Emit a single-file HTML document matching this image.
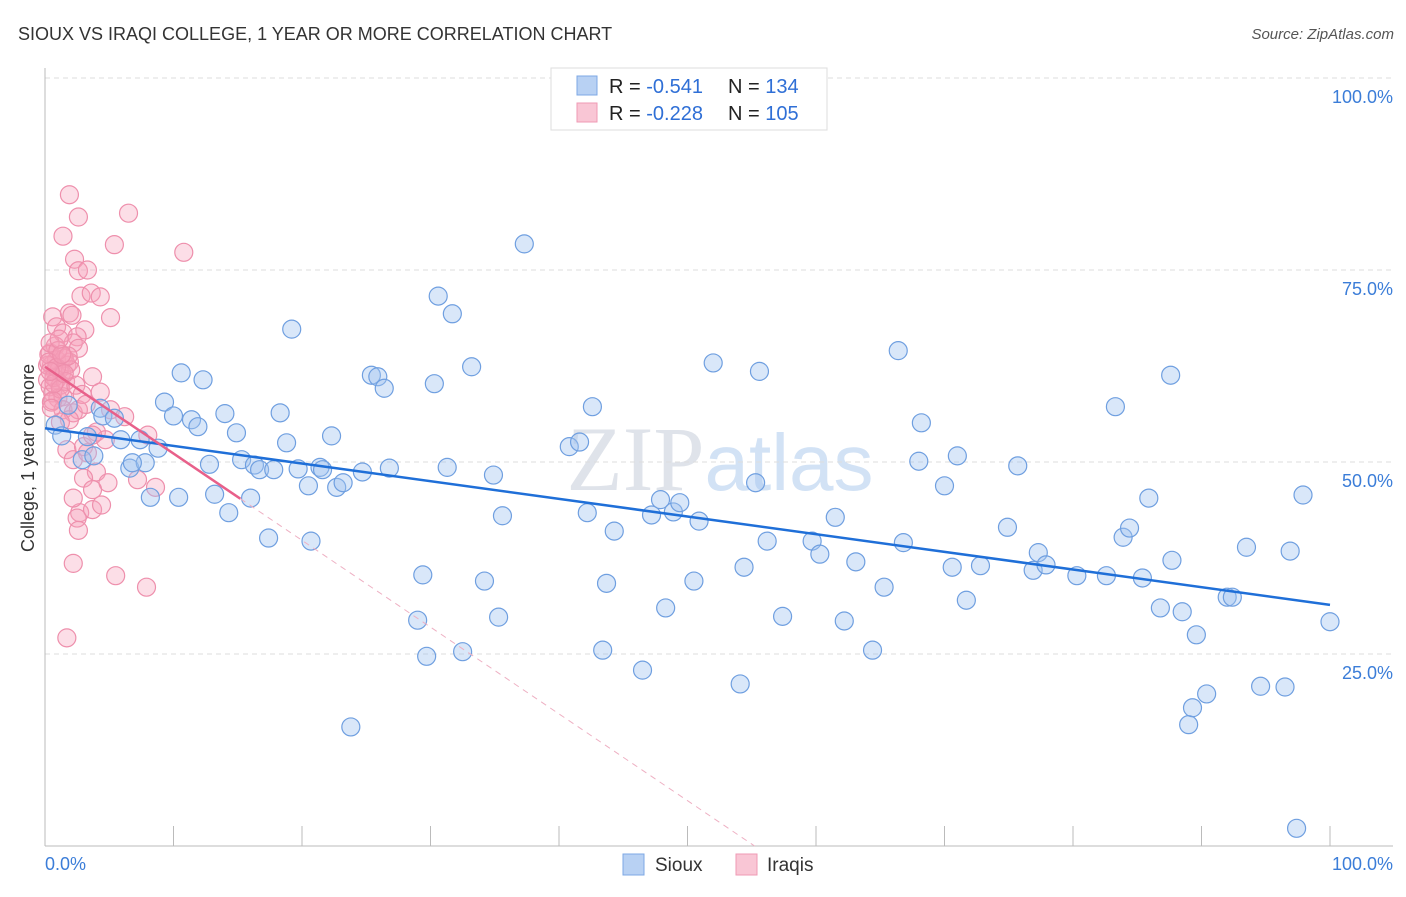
<!DOCTYPE html>
<html><head><meta charset="utf-8"><style>
body{margin:0;background:#fff;font-family:"Liberation Sans",sans-serif}
</style></head><body>
<svg id="chart" width="1406" height="892" xmlns="http://www.w3.org/2000/svg" font-family="Liberation Sans, sans-serif">
<text x="18" y="40" font-size="18" fill="#333">SIOUX VS IRAQI COLLEGE, 1 YEAR OR MORE CORRELATION CHART</text>
<text x="1394" y="39" font-size="15" fill="#555" text-anchor="end" font-style="italic">Source: ZipAtlas.com</text>
<text x="720" y="490" font-size="92" fill="#dfe3ea" text-anchor="middle" font-family="Liberation Serif, serif">ZIP<tspan fill="#d2e2f5" font-family="Liberation Sans, sans-serif" font-size="80">atlas</tspan></text>
<g id="grid"></g><g id="axes"></g><g id="pink"></g><g id="blue"></g><g id="lines"></g>
<text transform="translate(34,458) rotate(-90)" font-size="18" fill="#333" text-anchor="middle">College, 1 year or more</text>
<text x="45" y="870" font-size="18" fill="#3b7dd8">0.0%</text>
<text x="1393" y="870" font-size="18" fill="#3b7dd8" text-anchor="end">100.0%</text>
<g>
<rect x="551" y="68" width="276" height="62" fill="#fff" stroke="#ddd"/>
<rect x="577" y="76" width="20" height="19" fill="#b8d1f3" stroke="#7ea8e4"/>
<rect x="577" y="103" width="20" height="19" fill="#f9c6d5" stroke="#ef9ab4"/>
<text x="609" y="93" font-size="20" fill="#222">R = <tspan fill="#2f6fd6">-0.541</tspan><tspan x="728">N = </tspan><tspan fill="#2f6fd6">134</tspan></text>
<text x="609" y="120" font-size="20" fill="#222">R = <tspan fill="#2f6fd6">-0.228</tspan><tspan x="728">N = </tspan><tspan fill="#2f6fd6">105</tspan></text>
</g>
<g><rect x="623" y="854" width="21" height="21" fill="#b8d1f3" stroke="#7ea8e4"/><text x="655" y="871" font-size="19" fill="#333">Sioux</text></g>
<g><rect x="736" y="854" width="21" height="21" fill="#f9c6d5" stroke="#ef9ab4"/><text x="767" y="871" font-size="19" fill="#333">Iraqis</text></g>
</svg>
<script>
const yTicks=[100,75,50,25];
const yTickLabels=["100.0%","75.0%","50.0%","25.0%"];
const xTicks=[10,20,30,40,50,60,70,80,90,100];
const siouxX=[0.8,1.3,1.8,3.3,4.3,4.5,2.9,3.8,5.4,5.9,6.6,7.4,7.8,6.8,8.2,8.8,9.3,10.0,10.4,10.6,11.4,11.9,12.3,12.8,13.2,14.0,14.3,14.9,15.3,16.0,16.3,16.7,17.4,17.8,18.3,18.8,19.2,19.7,20.5,20.7,21.4,21.6,22.3,22.7,23.2,24.7,25.4,25.9,26.4,26.8,29.4,29.0,29.7,30.3,30.6,31.3,31.7,32.5,33.2,34.2,34.9,35.3,35.6,37.3,40.8,41.6,42.2,42.6,43.4,43.7,44.3,46.5,47.2,47.9,48.3,48.9,49.4,50.5,50.9,52.0,54.1,54.4,55.3,55.6,56.2,57.4,59.7,60.3,61.5,62.2,63.1,64.4,65.3,66.8,66.4,68.0,68.2,70.0,70.6,71.0,71.7,72.8,74.9,75.7,76.9,77.3,77.9,80.3,82.6,83.3,83.9,84.4,85.4,85.9,86.8,87.6,87.7,88.5,89.0,89.3,89.6,90.4,92.0,92.4,93.5,94.6,96.5,96.9,97.9,97.4,100,23.8];
const siouxY=[54.8,53.4,57.4,53.3,57.0,56.0,50.3,50.8,55.7,52.9,49.2,52.9,49.9,49.9,45.4,51.8,57.8,56.0,45.4,61.6,55.5,54.6,60.7,49.7,45.8,56.3,43.4,53.8,50.3,45.3,49.6,49.0,40.1,49.0,56.4,52.5,67.3,49.1,46.9,39.7,49.3,49.0,53.4,46.7,47.3,48.7,61.3,61.1,59.6,49.2,35.3,29.4,24.7,60.2,71.6,49.3,69.3,25.3,62.4,34.5,48.3,29.8,43.0,78.4,52.0,52.6,43.4,57.2,25.5,34.2,41.0,22.9,43.1,45.1,31.0,43.5,44.7,34.5,42.3,62.9,21.1,36.3,47.3,61.8,39.7,29.9,39.7,38.0,42.8,29.3,37.0,25.5,33.7,39.5,64.5,50.1,55.1,46.9,36.3,50.8,32.0,36.5,41.5,49.5,35.9,38.2,36.6,35.2,35.2,57.2,40.2,41.4,34.9,45.3,31.0,61.3,37.2,30.5,15.8,18.0,27.5,19.8,32.4,32.4,38.9,20.8,20.7,38.4,45.7,2.3,29.2,15.5];
const iraqiX=[1.9,2.6,1.4,6.5,5.4,10.8,2.3,2.6,3.3,2.8,3.6,4.3,5.1,0.6,1.9,2.1,3.1,0.9,1.4,2.5,2.2,2.6,0.4,0.9,0.5,1.4,1.7,0.8,1.3,1.9,0.2,0.9,0.4,1.2,0.6,1.0,0.5,1.4,3.7,4.3,1.4,2.2,2.6,1.9,5.1,6.2,8.0,4.0,4.7,1.7,3.0,2.2,3.3,4.0,3.0,4.9,2.7,3.7,3.7,4.4,7.2,8.6,2.2,2.5,2.6,2.2,5.5,7.9,1.7,3.7,1.2,0.2,0.8,0.3,1.1,0.7,1.5,0.4,1.0,2.0,1.6,0.3,1.2,0.6,0.9,1.8,2.4,0.5,1.3,2.9,3.2,0.7,1.1,1.5,0.4];
const iraqiY=[84.8,81.9,79.4,82.4,78.3,77.3,76.4,74.9,75.0,71.6,72.0,71.5,68.8,68.9,69.4,69.1,67.2,67.6,66.8,66.3,65.5,64.8,64.2,63.3,62.6,63.7,62.6,61.7,61.6,63.0,60.7,60.7,59.8,60.0,59.0,58.3,57.8,58.5,61.1,59.1,56.8,56.4,56.8,55.5,56.8,55.9,53.5,53.9,52.9,51.6,52.0,50.3,51.2,48.7,47.9,47.3,43.4,43.8,46.4,44.4,47.7,46.7,45.3,42.7,41.1,36.8,35.2,33.7,27.1,53.5,55.2,62.6,65.1,64.0,62.0,61.0,63.5,65.5,64.5,62.0,60.5,63.0,59.5,58.0,62.3,63.8,60.0,57.0,64.0,58.8,57.5,60.2,66.0,61.5,61.8];
const siouxTrend=[54.4,31.4];
const iraqiTrend=[62.4,-1.13,15.2];
const NS="http://www.w3.org/2000/svg";
const X=v=>45+v*12.85, Y=v=>846-v*7.68;
function mk(parent,tag,attrs){const e=document.createElementNS(NS,tag);for(const k in attrs)e.setAttribute(k,attrs[k]);document.getElementById(parent).appendChild(e);return e;}
yTicks.forEach((t,i)=>{
 const l=mk('grid','line',{x1:45,x2:1393,y1:Y(t),y2:Y(t),stroke:'#ddd','stroke-dasharray':'5,4'});
 
 
 const tx=mk('grid','text',{x:1393,y:Y(t)+25,'font-size':18,fill:'#3b7dd8','text-anchor':'end'});tx.textContent=yTickLabels[i];
 
 
});
const ax=mk('axes','line',{x1:45,x2:45,y1:68,y2:846,stroke:'#bbb'});


const bx=mk('axes','line',{x1:45,x2:1393,y1:846,y2:846,stroke:'#bbb'});


xTicks.forEach(t=>{const l=mk('axes','line',{x1:X(t),x2:X(t),y1:826,y2:846,stroke:'#bbb'});
 
 });
iraqiX.forEach((x,i)=>{const c=mk('pink','circle',{cx:X(x),cy:Y(iraqiY[i]),r:9,fill:'rgba(245,160,185,0.35)',stroke:'#ee8fac','stroke-width':1.2});
 
 });
siouxX.forEach((x,i)=>{const c=mk('blue','circle',{cx:X(x),cy:Y(siouxY[i]),r:9,fill:'rgba(160,195,240,0.4)',stroke:'#6f9fe0','stroke-width':1.2});
 
 });
const bl=mk('lines','line',{x1:X(0),y1:Y(siouxTrend[0]),x2:X(100),y2:Y(siouxTrend[1]),stroke:'#1f6fd8','stroke-width':2.5});


const xe=iraqiTrend[2], xz=-iraqiTrend[0]/iraqiTrend[1];
const pd=mk('lines','line',{x1:X(xe),y1:Y(iraqiTrend[0]+iraqiTrend[1]*xe),x2:X(xz),y2:Y(0),stroke:'#eeb0c3','stroke-width':1,'stroke-dasharray':'6,5'});


const pl=mk('lines','line',{x1:X(0),y1:Y(iraqiTrend[0]),x2:X(xe),y2:Y(iraqiTrend[0]+iraqiTrend[1]*xe),stroke:'#e8608a','stroke-width':2.5});


</script>
</body></html>
